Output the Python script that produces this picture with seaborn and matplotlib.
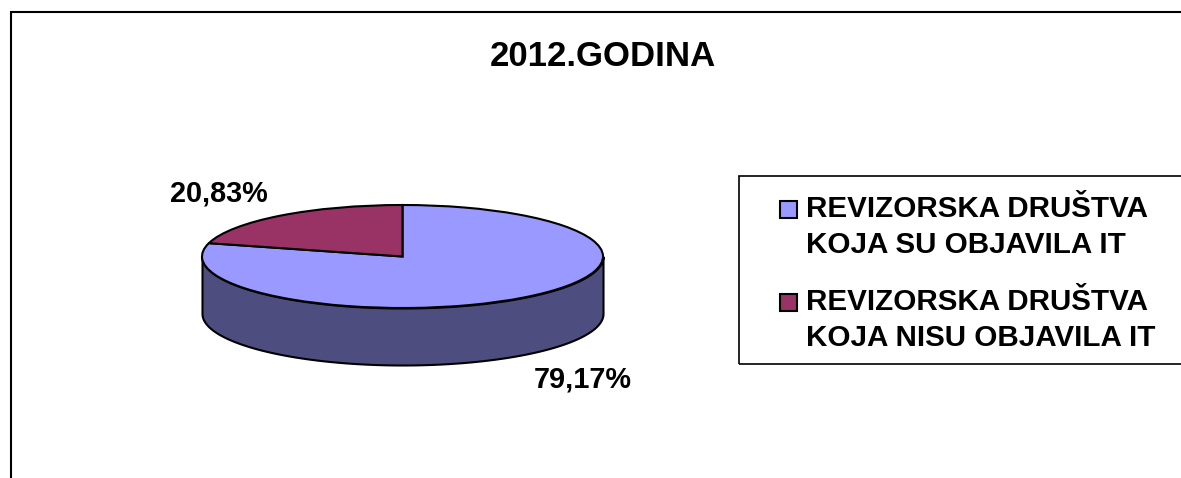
import numpy as np
import matplotlib
matplotlib.use("Agg")
import matplotlib.pyplot as plt
from matplotlib.patches import Rectangle, Wedge
from matplotlib.legend_handler import HandlerPatch
import seaborn as sns

# podaci
labels = ["REVIZORSKA DRUŠTVA\nKOJA SU OBJAVILA IT", "REVIZORSKA DRUŠTVA\nKOJA NISU OBJAVILA IT"]
values = [79.17, 20.83]
value_labels = ["79,17%", "20,83%"]
title = "2012.GODINA"

W, H = 1181, 478

sns.set_theme(style="white")
plt.rcParams['font.family'] = ['Liberation Sans', 'DejaVu Sans']
plt.rcParams['font.weight'] = 'bold'
colors = sns.color_palette(["#9999FF", "#993366"])
side_color = "#4D4D80"


def fx(x):
    return x / W


def fy(y):
    return 1 - y / H


# kvadrat u legendi, poravnat s prvim redom teksta
def legend_square(legend, orig_handle, xdescent, ydescent, width, height, fontsize):
    size = 12.2
    return Rectangle((15.8 - xdescent, (height - size) / 2 + 13 - ydescent), size, size)


fig = plt.figure(figsize=(W / 100, H / 100), dpi=100)

# okvir grafikona, ide preko desnog i donjeg ruba
fig.add_artist(Rectangle((fx(10.5), fy(H + 20)), fx(W + 20), fy(11.5) - fy(H + 20),
                         transform=fig.transFigure, fill=False, edgecolor="black", lw=1.5))

# okvir legende, ide preko desnog ruba
fig.add_artist(Rectangle((fx(739), fy(364)), fx(W + 20) - fx(739), fy(175.5) - fy(364),
                         transform=fig.transFigure, fill=False, edgecolor="black", lw=1.2))

# pie u izduzenim osima: krug postaje elipsa
top, bottom_top, bottom = 205, 308, 365
ax = fig.add_axes([fx(202), fy(bottom), fx(603) - fx(202), fy(top) - fy(bottom)])
depth = 2 * (bottom - bottom_top) / (bottom_top - top)

theta = np.linspace(np.pi, 2 * np.pi, 200)
ax.fill_between(np.cos(theta), np.sin(theta) - depth, np.sin(theta),
                color=side_color, edgecolor="black", lw=1.5, clip_on=False)

wedges, _ = ax.pie(values, colors=colors, startangle=90, counterclock=False, radius=1,
                   wedgeprops=dict(edgecolor="black", lw=1.5, clip_on=False))
ax.set_aspect('auto')
ax.set_xlim(-1, 1)
ax.set_ylim(-1 - depth, 1)
ax.axis('off')

fig.text(fx(603), fy(56.5), title, ha='center', va='center', fontsize=25, color="black")
fig.text(fx(583), fy(379), value_labels[0], ha='center', va='center', fontsize=20.8, color="black")
fig.text(fx(219), fy(193), value_labels[1], ha='center', va='center', fontsize=20.8, color="black")

leg = fig.legend(wedges, labels, loc='upper left',
                 bbox_to_anchor=(fx(739), fy(175.5), fx(W + 40) - fx(739), 0),
                 bbox_transform=fig.transFigure, mode='expand', borderaxespad=0,
                 borderpad=0.66, fontsize=21.3, labelspacing=1.0, handlelength=1.32,
                 handleheight=0.6, handletextpad=0.3, frameon=False,
                 labelcolor="black",
                 handler_map={Wedge: HandlerPatch(patch_func=legend_square)})
for t in leg.get_texts():
    t.set_linespacing(1.34)

fig.savefig("out.png", dpi=100)
